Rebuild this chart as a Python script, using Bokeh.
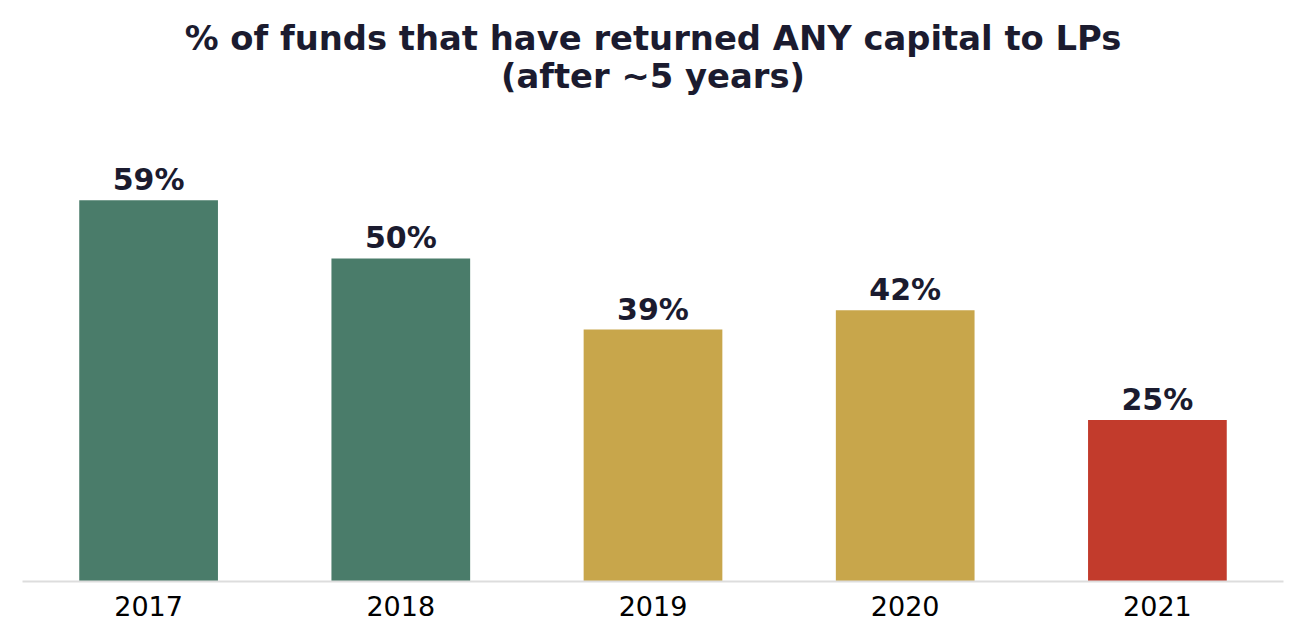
from bokeh.plotting import figure
from bokeh.models import ColumnDataSource, FactorRange, Range1d, Title
from bokeh.embed import file_html
from bokeh.resources import INLINE
from bokeh.core.properties import value

years = ["2017", "2018", "2019", "2020", "2021"]
pct = [59, 50, 39, 42, 25]
labels = ["59%", "50%", "39%", "42%", "25%"]
colors = ["#4A7C6A", "#4A7C6A", "#C8A64B", "#C8A64B", "#C23B2C"]
title_lines = ["% of funds that have returned ANY capital to LPs", "(after ~5 years)"]

src = ColumnDataSource(dict(x=years, y=pct, label=labels, color=colors))

p = figure(width=1300, height=635, x_range=FactorRange(*years, range_padding=0),
           y_range=Range1d(0, 72.9), output_backend="svg", toolbar_location=None,
           min_border_left=22, min_border_right=17, min_border_top=110, min_border_bottom=54)

p.title.visible = False
standoffs = [30, -37]
for i, line in enumerate(reversed(title_lines)):
    p.add_layout(Title(text=line, align="center", text_font="DejaVu Sans",
                       text_font_size="33.8px", text_font_style="bold",
                       text_color="#1B1B2F", standoff=standoffs[i],
                       offset=0), "above")

p.vbar(x="x", top="y", width=0.55, color="color", source=src, line_color=None)
p.text(x="x", y="y", text="label", source=src, text_align="center", text_baseline="bottom",
       y_offset=-3, text_font=value("DejaVu Sans"), text_font_size="30px",
       text_font_style="bold", text_color="#1B1B2F")

p.yaxis.visible = False
p.xgrid.grid_line_color = None
p.ygrid.grid_line_color = None
p.outline_line_color = None
p.xaxis.axis_line_color = "#DDDDDD"
p.xaxis.axis_line_width = 2
p.xaxis.major_tick_line_color = None
p.xaxis.minor_tick_line_color = None
p.xaxis.major_label_text_font = "DejaVu Sans"
p.xaxis.major_label_text_font_size = "27px"
p.xaxis.major_label_text_color = "#000000"
p.xaxis.major_label_standoff = 8

open("out.html", "w").write(file_html(p, INLINE))
